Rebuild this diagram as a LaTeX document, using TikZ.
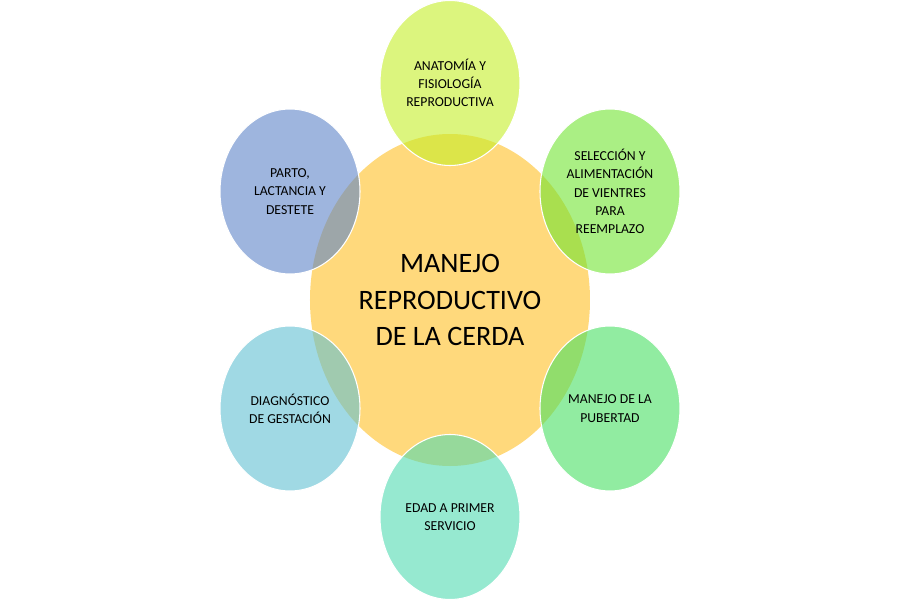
\documentclass[tikz,border=0pt]{standalone}
\usepackage{fontspec}
\setmainfont{Carlito}
\usepackage{tikz}
\usetikzlibrary{shapes.geometric}
\usepackage{xcolor}
\definecolor{coreFill}{RGB}{255,217,124}
\definecolor{anatFill}{RGB}{197,238,40}
\definecolor{selFill}{RGB}{113,228,50}
\definecolor{pubFill}{RGB}{72,224,98}
\definecolor{edadFill}{RGB}{80,218,177}
\definecolor{diagFill}{RGB}{97,192,210}
\definecolor{partoFill}{RGB}{93,132,200}

\begin{document}
\begin{tikzpicture}[
  core/.style={ellipse, fill=coreFill, minimum width=5.6cm, minimum height=6.64cm, inner sep=0pt, align=center,
    font=\fontsize{16}{21}\selectfont},
  topic/.style={ellipse, draw=white, line width=0.6pt, fill opacity=0.6, text opacity=1, minimum width=2.8cm,
    minimum height=3.3cm, inner sep=0pt, align=center, font=\fontsize{7.8}{10.4}\selectfont},
  anat/.style={topic, fill=anatFill},
  sel/.style={topic, fill=selFill},
  pub/.style={topic, fill=pubFill},
  edad/.style={topic, fill=edadFill},
  diag/.style={topic, fill=diagFill},
  parto/.style={topic, fill=partoFill}
]
\useasboundingbox (-9,-6) rectangle (9,6);

% central topic
\node[core] (manejo) at (0,0) {MANEJO\\REPRODUCTIVO\\DE LA CERDA};

% surrounding topics, clockwise from the top
\node[anat]  (anatomia)  at (0,4.34)      {ANATOMÍA Y\\FISIOLOGÍA\\REPRODUCTIVA};
\node[sel]   (seleccion) at (3.2,2.17)    {SELECCIÓN Y\\ALIMENTACIÓN\\DE VIENTRES\\PARA\\REEMPLAZO};
\node[pub]   (pubertad)  at (3.2,-2.17)   {MANEJO DE LA\\PUBERTAD};
\node[edad]  (edad)      at (0,-4.34)     {EDAD A PRIMER\\SERVICIO};
\node[diag]  (diagnos)   at (-3.2,-2.17)  {DIAGNÓSTICO\\DE GESTACIÓN};
\node[parto] (parto)     at (-3.2,2.17)   {PARTO,\\LACTANCIA Y\\DESTETE};

\end{tikzpicture}
\end{document}
